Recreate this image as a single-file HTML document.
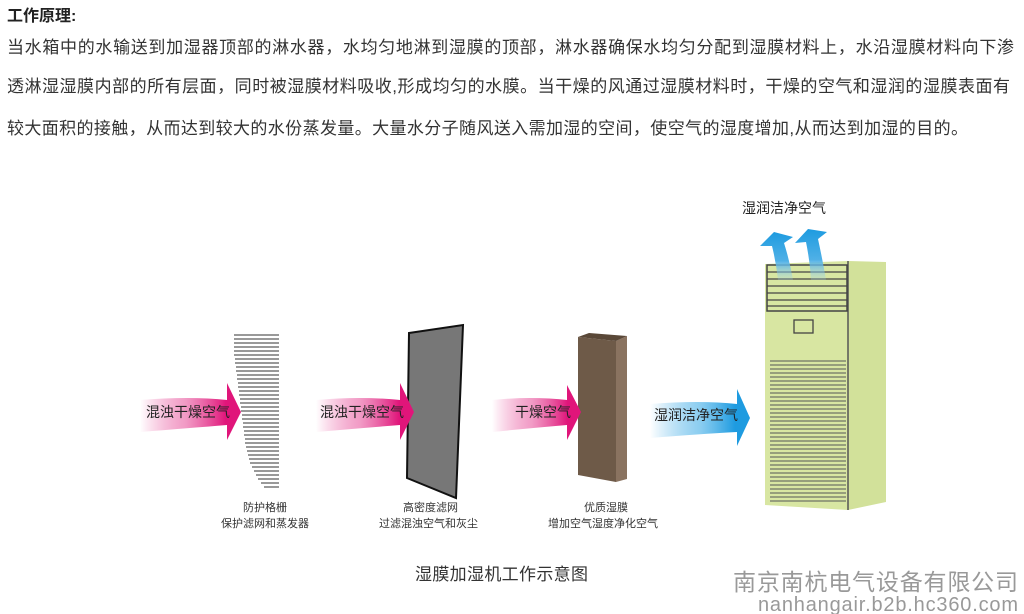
<!DOCTYPE html>
<html><head><meta charset="utf-8"><style>
html,body{margin:0;padding:0;background:#fff}
svg{display:block}
text{font-family:"Liberation Sans","Noto Sans CJK SC",sans-serif}
</style></head><body>
<svg width="1024" height="614" viewBox="0 0 1024 614" xmlns="http://www.w3.org/2000/svg">
<defs>
<linearGradient id="pk" x1="0" x2="1" y1="0" y2="0">
<stop offset="0" stop-color="#e0157a" stop-opacity="0"/>
<stop offset="0.45" stop-color="#e8589f" stop-opacity="0.6"/>
<stop offset="0.85" stop-color="#e0157a"/>
<stop offset="1" stop-color="#e0157a"/>
</linearGradient>
<linearGradient id="bl" x1="0" x2="1" y1="0" y2="0">
<stop offset="0" stop-color="#1e9be0" stop-opacity="0"/>
<stop offset="0.5" stop-color="#5ab8ea" stop-opacity="0.7"/>
<stop offset="0.85" stop-color="#1e9be0"/>
<stop offset="1" stop-color="#1e9be0"/>
</linearGradient>
<linearGradient id="bu" x1="0" x2="0" y1="0" y2="1">
<stop offset="0" stop-color="#1e9be0"/>
<stop offset="0.6" stop-color="#4fb0e6"/>
<stop offset="1" stop-color="#9fd3f0" stop-opacity="0.2"/>
</linearGradient>
</defs>

<text x="7" y="21" font-size="16" font-weight="bold" fill="#222">工作原理:</text>
<g font-size="17" fill="#333">
<text x="7" y="53" textLength="1007" lengthAdjust="spacing">当水箱中的水输送到加湿器顶部的淋水器，水均匀地淋到湿膜的顶部，淋水器确保水均匀分配到湿膜材料上，水沿湿膜材料向下渗</text>
<text x="7" y="92" textLength="1003" lengthAdjust="spacing">透淋湿湿膜内部的所有层面，同时被湿膜材料吸收,形成均匀的水膜。当干燥的风通过湿膜材料时，干燥的空气和湿润的湿膜表面有</text>
<text x="7" y="134" textLength="961" lengthAdjust="spacing">较大面积的接触，从而达到较大的水份蒸发量。大量水分子随风送入需加湿的空间，使空气的湿度增加,从而达到加湿的目的。</text>
</g>

<!-- grille lines -->
<g stroke="#333" stroke-width="1">
<line x1="234" y1="335" x2="279" y2="335"/><line x1="234" y1="339" x2="279" y2="339"/>
<line x1="234" y1="343" x2="279" y2="343"/><line x1="234" y1="347" x2="279" y2="347"/>
<line x1="234" y1="351" x2="279" y2="351"/><line x1="234" y1="355" x2="279" y2="355"/>
<line x1="235" y1="359" x2="279" y2="359"/><line x1="235" y1="363" x2="279" y2="363"/>
<line x1="236" y1="367" x2="279" y2="367"/><line x1="236" y1="371" x2="279" y2="371"/>
<line x1="237" y1="375" x2="279" y2="375"/><line x1="237" y1="379" x2="279" y2="379"/>
<line x1="238" y1="383" x2="279" y2="383"/><line x1="238" y1="387" x2="279" y2="387"/>
<line x1="239" y1="391" x2="279" y2="391"/><line x1="239" y1="395" x2="279" y2="395"/>
<line x1="240" y1="399" x2="279" y2="399"/><line x1="240" y1="403" x2="279" y2="403"/>
<line x1="241" y1="407" x2="279" y2="407"/><line x1="241" y1="411" x2="279" y2="411"/>
<line x1="242" y1="415" x2="279" y2="415"/><line x1="242" y1="419" x2="279" y2="419"/>
<line x1="243" y1="423" x2="279" y2="423"/><line x1="243" y1="427" x2="279" y2="427"/>
<line x1="244" y1="431" x2="279" y2="431"/><line x1="244" y1="435" x2="279" y2="435"/>
<line x1="245" y1="439" x2="279" y2="439"/><line x1="245" y1="443" x2="279" y2="443"/>
<line x1="246" y1="447" x2="279" y2="447"/><line x1="247" y1="451" x2="279" y2="451"/>
<line x1="248" y1="455" x2="279" y2="455"/><line x1="249" y1="459" x2="279" y2="459"/>
<line x1="250" y1="463" x2="279" y2="463"/><line x1="252" y1="467" x2="279" y2="467"/>
<line x1="254" y1="471" x2="279" y2="471"/><line x1="256" y1="475" x2="279" y2="475"/>
<line x1="258" y1="479" x2="279" y2="479"/><line x1="261" y1="483" x2="279" y2="483"/>
<line x1="264" y1="487" x2="279" y2="487"/>
</g>

<!-- dark filter panel -->
<polygon points="409,333 463,325 456,498 407,478" fill="#777" stroke="#111" stroke-width="2"/>

<!-- brown pad -->
<polygon points="578,337 616,341 616,482 578,475" fill="#6e5a48"/>
<polygon points="616,341 627,336 627,479 616,482" fill="#8a7360"/>
<polygon points="578,337 589,333 627,336 616,341" fill="#5a4838"/>

<!-- pink arrows -->
<path d="M140,400 Q190,396 227,400 L227,383 L241,412 L227,440 L227,425 Q190,428 140,432 Z" fill="url(#pk)"/>
<path d="M316,400 Q362,396 400,400 L400,383 L414,412 L400,440 L400,425 Q362,428 316,432 Z" fill="url(#pk)"/>
<path d="M492,400 Q532,396 567,400 L567,385 L581,412 L567,440 L567,425 Q532,428 492,432 Z" fill="url(#pk)"/>
<g font-size="14" fill="#222">
<text x="146" y="417">混浊干燥空气</text>
<text x="320" y="417">混浊干燥空气</text>
<text x="515" y="417">干燥空气</text>
</g>

<!-- cabinet -->
<polygon points="765,264 848,261 848,510 765,505" fill="#d8e6a2"/>
<polygon points="848,261 886,262 886,502 848,510" fill="#d2e19a"/>
<line x1="848" y1="261" x2="848" y2="510" stroke="#555" stroke-width="1.5"/>
<rect x="767" y="265" width="80" height="46" fill="none" stroke="#444" stroke-width="1.5"/>
<g stroke="#444" stroke-width="1.3">
<line x1="767" y1="272" x2="847" y2="272"/><line x1="767" y1="279" x2="847" y2="279"/>
<line x1="767" y1="286" x2="847" y2="286"/><line x1="767" y1="293" x2="847" y2="293"/>
<line x1="767" y1="300" x2="847" y2="300"/><line x1="767" y1="306" x2="847" y2="306"/>
</g>
<rect x="794" y="320" width="19" height="13" fill="none" stroke="#444" stroke-width="1.3"/>
<g stroke="#555" stroke-width="0.9">
<line x1="770" y1="361" x2="846" y2="361"/><line x1="770" y1="365" x2="846" y2="365"/>
<line x1="770" y1="369" x2="846" y2="369"/><line x1="770" y1="373" x2="846" y2="373"/>
<line x1="770" y1="377" x2="846" y2="377"/><line x1="770" y1="381" x2="846" y2="381"/>
<line x1="770" y1="385" x2="846" y2="385"/><line x1="770" y1="389" x2="846" y2="389"/>
<line x1="770" y1="393" x2="846" y2="393"/><line x1="770" y1="397" x2="846" y2="397"/>
<line x1="770" y1="401" x2="846" y2="401"/><line x1="770" y1="405" x2="846" y2="405"/>
<line x1="770" y1="409" x2="846" y2="409"/><line x1="770" y1="413" x2="846" y2="413"/>
<line x1="770" y1="417" x2="846" y2="417"/><line x1="770" y1="421" x2="846" y2="421"/>
<line x1="770" y1="425" x2="846" y2="425"/><line x1="770" y1="429" x2="846" y2="429"/>
<line x1="770" y1="433" x2="846" y2="433"/><line x1="770" y1="437" x2="846" y2="437"/>
<line x1="770" y1="441" x2="846" y2="441"/><line x1="770" y1="445" x2="846" y2="445"/>
<line x1="770" y1="449" x2="846" y2="449"/><line x1="770" y1="453" x2="846" y2="453"/>
<line x1="770" y1="457" x2="846" y2="457"/><line x1="770" y1="461" x2="846" y2="461"/>
<line x1="770" y1="465" x2="846" y2="465"/><line x1="770" y1="469" x2="846" y2="469"/>
<line x1="770" y1="473" x2="846" y2="473"/><line x1="770" y1="477" x2="846" y2="477"/>
<line x1="770" y1="481" x2="846" y2="481"/><line x1="770" y1="485" x2="846" y2="485"/>
<line x1="770" y1="489" x2="846" y2="489"/><line x1="770" y1="493" x2="846" y2="493"/>
<line x1="770" y1="497" x2="846" y2="497"/><line x1="770" y1="501" x2="846" y2="501"/>
</g>

<!-- up arrows -->
<path d="M778,280 Q776,262 772,246 L760,246 L774,232 L793,237 L784,243 Q790,262 793,280 Z" fill="url(#bu)"/>
<path d="M811,280 Q810,262 806,242 L795,243 L808,229 L827,232 L818,239 Q823,262 826,280 Z" fill="url(#bu)"/>
<text x="742" y="213" font-size="14" fill="#222">湿润洁净空气</text>

<!-- blue arrow -->
<path d="M650,404 Q700,400 737,404 L737,389 L750,418 L737,446 L737,432 Q700,434 650,438 Z" fill="url(#bl)"/>
<text x="654" y="420" font-size="14" fill="#222">湿润洁净空气</text>

<!-- labels -->
<g font-size="11" fill="#333">
<text x="243" y="511">防护格栅</text>
<text x="221" y="527">保护滤网和蒸发器</text>
<text x="403" y="511">高密度滤网</text>
<text x="379" y="527">过滤混浊空气和灰尘</text>
<text x="584" y="511">优质湿膜</text>
<text x="548" y="527">增加空气湿度净化空气</text>
</g>
<text x="415" y="580" font-size="17" fill="#333" textLength="173" lengthAdjust="spacing">湿膜加湿机工作示意图</text>
<text x="733" y="590" font-size="23" fill="#999" textLength="285" lengthAdjust="spacing">南京南杭电气设备有限公司</text>
<text x="758" y="611" font-size="20" fill="#999" textLength="260" lengthAdjust="spacing">nanhangair.b2b.hc360.com</text>
</svg>
</body></html>
